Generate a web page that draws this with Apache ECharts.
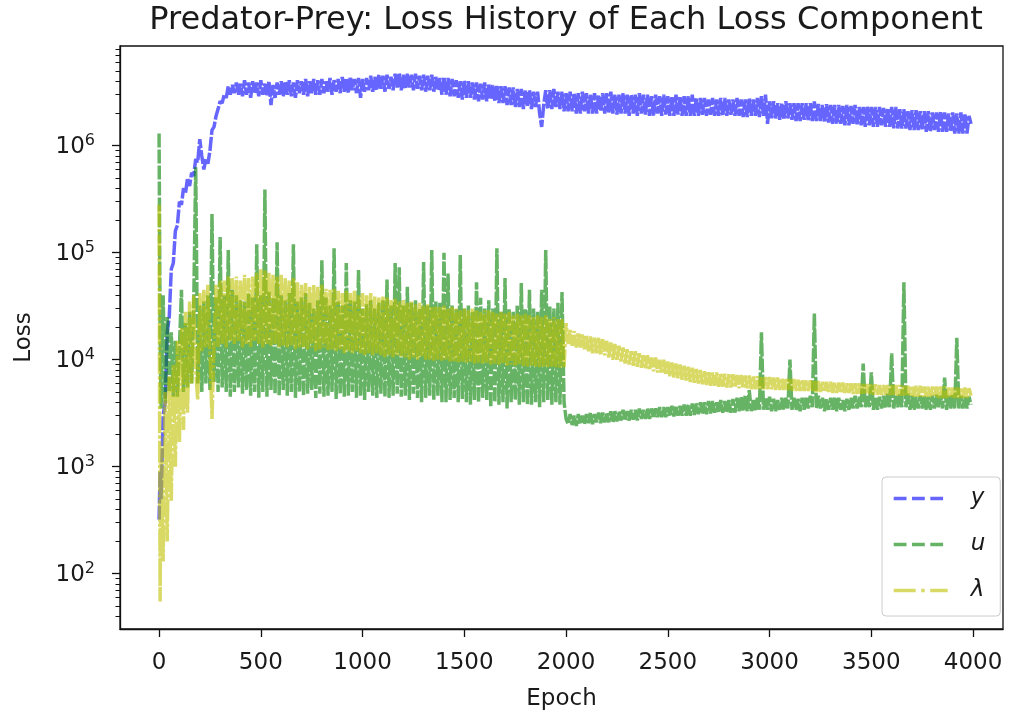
<!DOCTYPE html>
<html><head><meta charset="utf-8">
<script src="https://cdn.jsdelivr.net/npm/echarts@6/dist/echarts.min.js"></script>
<style>html,body{margin:0;padding:0;background:#fff}#c{width:1013px;height:719px}</style>
</head><body><div id="c"></div>
<script>
const titleText = 'Predator-Prey: Loss History of Each Loss Component';
const xName = 'Epoch';
const yName = 'Loss';
const seriesNames = ['y', 'u', 'λ'];
const xTicks = [0, 500, 1000, 1500, 2000, 2500, 3000, 3500, 4000];
const yTicks = [1e2, 1e3, 1e4, 1e5, 1e6];

// epochs: 0, 5, then every 10 epochs from 10 to 3990
const epochs = [0, 5];
for (let e = 10; e <= 3990; e += 10) epochs.push(e);

// y loss (after the 2 early values, rows of 20 = 200 epochs each)
const lossY = [
  3.2e2, 9.0e2,
  5.0e2, 3.0e3, 4.0e3, 1.8e4, 2.5e4, 7.0e4, 8.0e4, 1.6e5, 1.8e5, 3.0e5, 2.8e5, 4.0e5, 3.6e5, 5.0e5, 4.2e5, 5.6e5, 5.2e5, 7.5e5, 7.0e5, 1.15e6,
  8.0e5, 6.0e5, 7.5e5, 6.8e5, 9.0e5, 1.4e6, 1.5e6, 1.9e6, 2.2e6, 2.6e6, 2.5e6, 3.0e6, 2.8e6, 3.6e6, 3.0e6, 3.7e6, 3.1e6, 3.9e6, 3.0e6, 3.8e6,
  2.9e6, 4.1e6, 3.0e6, 3.9e6, 2.8e6, 4.0e6, 3.1e6, 3.9e6, 2.9e6, 4.1e6, 3.0e6, 3.8e6, 2.9e6, 4.0e6, 2.4e6, 3.7e6, 2.8e6, 3.9e6, 3.0e6, 4.0e6,
  2.9e6, 4.0e6, 3.0e6, 4.1e6, 2.9e6, 3.9e6, 2.8e6, 4.1e6, 3.1e6, 4.0e6, 3.0e6, 4.2e6, 2.9e6, 4.0e6, 3.1e6, 4.2e6, 3.0e6, 4.1e6, 3.0e6, 4.2e6,
  3.1e6, 4.0e6, 3.2e6, 4.3e6, 3.0e6, 4.1e6, 3.2e6, 4.2e6, 3.1e6, 4.4e6, 3.2e6, 4.3e6, 3.1e6, 4.4e6, 3.3e6, 4.2e6, 3.1e6, 4.3e6, 2.8e6, 4.2e6,
  3.2e6, 4.3e6, 3.3e6, 4.5e6, 3.2e6, 4.4e6, 3.3e6, 4.6e6, 3.4e6, 4.5e6, 3.2e6, 4.6e6, 3.4e6, 4.4e6, 3.3e6, 4.7e6, 3.5e6, 4.8e6, 3.3e6, 4.6e6,
  3.4e6, 4.7e6, 3.5e6, 4.6e6, 3.3e6, 4.7e6, 3.4e6, 4.5e6, 3.3e6, 4.6e6, 3.2e6, 4.5e6, 3.3e6, 4.6e6, 3.2e6, 4.4e6, 3.3e6, 4.3e6, 3.0e6, 4.4e6,
  3.0e6, 4.3e6, 2.9e6, 4.2e6, 2.9e6, 4.1e6, 2.8e6, 4.0e6, 2.7e6, 4.1e6, 2.8e6, 4.0e6, 2.8e6, 3.9e6, 2.7e6, 3.9e6, 2.6e6, 3.8e6, 2.7e6, 3.9e6,
  2.6e6, 3.8e6, 2.7e6, 3.7e6, 2.6e6, 3.7e6, 2.5e6, 3.6e6, 2.5e6, 3.6e6, 2.4e6, 3.5e6, 2.4e6, 3.5e6, 2.3e6, 3.4e6, 2.3e6, 3.4e6, 2.2e6, 3.3e6,
  2.3e6, 3.3e6, 2.2e6, 3.2e6, 2.3e6, 3.2e6, 2.0e6, 1.5e6, 2.4e6, 3.3e6, 2.2e6, 3.3e6, 2.2e6, 3.4e6, 2.3e6, 3.2e6, 2.2e6, 3.2e6, 2.1e6, 3.1e6,
  2.1e6, 3.2e6, 2.1e6, 3.1e6, 2.0e6, 3.1e6, 2.0e6, 3.2e6, 2.1e6, 3.1e6, 2.0e6, 3.0e6, 2.0e6, 3.1e6, 2.0e6, 3.0e6, 2.1e6, 3.1e6, 2.0e6, 3.1e6,
  2.0e6, 3.2e6, 2.0e6, 3.0e6, 1.95e6, 3.0e6, 2.0e6, 3.1e6, 2.0e6, 3.0e6, 1.9e6, 3.0e6, 2.0e6, 3.0e6, 1.9e6, 3.1e6, 2.0e6, 3.0e6, 1.95e6, 3.0e6,
  1.9e6, 2.9e6, 1.9e6, 3.0e6, 2.0e6, 2.9e6, 1.9e6, 3.0e6, 1.95e6, 2.9e6, 1.9e6, 2.9e6, 1.9e6, 3.0e6, 1.95e6, 2.9e6, 1.9e6, 2.9e6, 1.9e6, 2.9e6,
  1.9e6, 3.0e6, 1.9e6, 2.8e6, 1.9e6, 2.8e6, 1.95e6, 2.8e6, 1.9e6, 2.7e6, 1.95e6, 2.8e6, 1.9e6, 2.7e6, 1.9e6, 2.8e6, 1.9e6, 2.8e6, 1.9e6, 2.7e6,
  1.95e6, 2.7e6, 1.9e6, 2.8e6, 1.9e6, 2.7e6, 1.85e6, 2.7e6, 1.85e6, 2.8e6, 1.9e6, 2.7e6, 1.9e6, 2.8e6, 1.85e6, 2.9e6, 1.9e6, 3.0e6, 1.6e6, 2.6e6,
  1.8e6, 2.6e6, 1.8e6, 2.5e6, 1.75e6, 2.5e6, 1.75e6, 2.6e6, 1.8e6, 2.5e6, 1.75e6, 2.5e6, 1.7e6, 2.5e6, 1.7e6, 2.5e6, 1.75e6, 2.5e6, 1.7e6, 2.5e6,
  1.7e6, 2.6e6, 1.7e6, 2.45e6, 1.7e6, 2.4e6, 1.65e6, 2.45e6, 1.65e6, 2.4e6, 1.6e6, 2.4e6, 1.6e6, 2.4e6, 1.6e6, 2.35e6, 1.55e6, 2.4e6, 1.55e6, 2.35e6,
  1.6e6, 2.4e6, 1.55e6, 2.3e6, 1.55e6, 2.3e6, 1.5e6, 2.35e6, 1.55e6, 2.3e6, 1.5e6, 2.3e6, 1.5e6, 2.3e6, 1.55e6, 2.25e6, 1.5e6, 2.25e6, 1.5e6, 2.3e6,
  1.45e6, 2.3e6, 1.45e6, 2.2e6, 1.45e6, 2.2e6, 1.45e6, 2.1e6, 1.4e6, 2.15e6, 1.4e6, 2.15e6, 1.4e6, 2.1e6, 1.4e6, 2.1e6, 1.35e6, 2.1e6, 1.35e6, 2.05e6,
  1.4e6, 2.05e6, 1.35e6, 2.1e6, 1.35e6, 2.05e6, 1.35e6, 2.0e6, 1.35e6, 2.05e6, 1.3e6, 2.0e6, 1.3e6, 2.05e6, 1.3e6, 2.0e6, 1.3e6, 1.9e6, 1.6e6
];

// u loss
const lossU = [
  1.3e6, 2.0e4,
  3.5e3, 4.0e4, 4.0e3, 2.5e4, 5.0e3, 1.8e4, 4.5e3, 1.5e4, 4.5e3, 1.3e4, 4.5e4, 5.0e3, 2.2e4, 5.5e3, 2.8e4, 6.0e3, 3.0e4, 6.3e5, 6.0e3, 3.2e4,
  5.0e3, 3.5e4, 6.0e3, 4.0e4, 5.2e3, 2.3e5, 6.2e3, 3.8e4, 5.0e3, 1.4e5, 5.5e3, 4.0e4, 5.0e3, 1.06e5, 4.5e3, 4.5e4, 5.0e3, 4.0e4, 5.5e3, 3.6e4,
  4.8e3, 3.5e4, 5.2e3, 4.2e4, 4.6e3, 3.8e4, 5.0e3, 1.2e5, 4.4e3, 4.0e4, 5.0e3, 3.9e5, 4.5e3, 4.4e4, 5.2e3, 3.8e4, 4.8e3, 1.25e5, 4.6e3, 4.0e4,
  5.2e3, 3.6e4, 4.6e3, 4.2e4, 5.0e3, 1.2e5, 4.4e3, 3.5e4, 5.0e3, 3.8e4, 4.6e3, 4.2e4, 4.8e3, 3.4e4, 5.2e3, 3.0e4, 4.4e3, 3.6e4, 4.8e3, 8.5e4,
  4.5e3, 3.8e4, 4.6e3, 3.2e4, 5.0e3, 1.1e5, 4.3e3, 3.5e4, 4.8e3, 3.2e4, 4.5e3, 8.0e4, 4.6e3, 3.6e4, 5.0e3, 3.5e4, 4.4e3, 6.9e4, 4.6e3, 3.0e4,
  4.2e3, 3.3e4, 5.0e3, 3.6e4, 4.6e3, 3.0e4, 4.4e3, 3.4e4, 4.8e3, 3.6e4, 4.5e3, 5.6e4, 4.4e3, 3.2e4, 4.6e3, 8.0e4, 4.8e3, 7.3e4, 4.5e3, 3.2e4,
  4.6e3, 4.8e4, 4.2e3, 3.4e4, 4.8e3, 3.6e4, 4.4e3, 3.0e4, 4.0e3, 8.2e4, 4.4e3, 3.2e4, 4.6e3, 1.06e5, 4.2e3, 3.5e4, 4.6e3, 3.4e4, 4.0e3, 1.0e5,
  4.0e3, 6.4e4, 4.2e3, 3.2e4, 4.4e3, 3.0e4, 4.0e3, 9.5e4, 4.3e3, 3.0e4, 4.0e3, 3.2e4, 3.8e3, 2.8e4, 4.2e3, 5.3e4, 4.0e3, 3.8e4, 4.4e3, 3.0e4,
  4.2e3, 3.6e4, 3.6e3, 3.0e4, 4.0e3, 1.1e5, 3.8e3, 2.8e4, 4.0e3, 5.8e4, 3.5e3, 3.0e4, 4.0e3, 2.8e4, 4.2e3, 3.2e4, 3.8e3, 5.2e4, 4.0e3, 3.0e4,
  3.8e3, 4.5e4, 3.8e3, 3.0e4, 4.0e3, 2.8e4, 3.6e3, 4.5e4, 4.0e3, 1.06e5, 4.2e3, 3.2e4, 3.8e3, 3.0e4, 4.0e3, 3.4e4, 3.8e3, 4.3e4, 4.0e3, 2.8e3,
  2.5e3, 3.1e3, 2.45e3, 3.0e3, 2.4e3, 3.1e3, 2.5e3, 3.0e3, 2.5e3, 3.1e3, 2.55e3, 3.2e3, 2.5e3, 3.1e3, 2.6e3, 3.2e3, 2.55e3, 3.2e3, 2.6e3, 3.2e3,
  2.6e3, 3.3e3, 2.6e3, 3.3e3, 2.65e3, 3.3e3, 2.7e3, 3.4e3, 2.7e3, 3.3e3, 2.7e3, 3.4e3, 2.75e3, 3.4e3, 2.7e3, 3.5e3, 2.8e3, 3.4e3, 2.8e3, 3.5e3,
  2.8e3, 3.5e3, 2.85e3, 3.5e3, 2.9e3, 3.6e3, 2.9e3, 3.6e3, 2.9e3, 3.6e3, 2.95e3, 3.7e3, 2.95e3, 3.7e3, 3.0e3, 3.7e3, 3.0e3, 3.8e3, 3.0e3, 3.8e3,
  3.0e3, 3.9e3, 3.05e3, 3.9e3, 3.1e3, 4.0e3, 3.1e3, 4.0e3, 3.1e3, 4.1e3, 3.15e3, 4.1e3, 3.2e3, 4.0e3, 3.2e3, 4.2e3, 3.2e3, 4.1e3, 3.2e3, 4.2e3,
  3.2e3, 4.3e3, 3.2e3, 4.4e3, 3.3e3, 4.5e3, 3.3e3, 4.6e3, 3.3e3, 5.2e3, 3.3e3, 4.2e3, 3.3e3, 4.4e3, 3.4e3, 1.8e4, 3.4e3, 4.4e3, 3.4e3, 4.5e3,
  3.3e3, 4.3e3, 3.3e3, 4.2e3, 3.4e3, 4.4e3, 3.4e3, 4.4e3, 3.5e3, 1.0e4, 3.4e3, 4.4e3, 3.4e3, 4.3e3, 3.3e3, 4.4e3, 3.4e3, 4.5e3, 3.5e3, 4.6e3,
  3.6e3, 2.7e4, 3.5e3, 4.6e3, 3.5e3, 4.4e3, 3.3e3, 4.3e3, 3.4e3, 4.4e3, 3.4e3, 4.5e3, 3.3e3, 4.4e3, 3.4e3, 4.2e3, 3.3e3, 4.3e3, 3.4e3, 4.4e3,
  3.5e3, 4.6e3, 3.5e3, 4.5e3, 3.6e3, 9.2e3, 3.6e3, 4.6e3, 3.6e3, 7.6e3, 3.4e3, 4.5e3, 3.4e3, 4.5e3, 3.5e3, 4.6e3, 3.5e3, 4.8e3, 3.6e3, 1.15e4,
  3.5e3, 4.6e3, 3.6e3, 4.8e3, 3.6e3, 5.3e4, 3.6e3, 4.8e3, 3.4e3, 4.6e3, 3.4e3, 4.5e3, 3.5e3, 4.6e3, 3.5e3, 4.6e3, 3.4e3, 4.5e3, 3.4e3, 4.6e3,
  3.5e3, 4.7e3, 3.6e3, 4.6e3, 3.5e3, 6.8e3, 3.4e3, 4.6e3, 3.5e3, 4.8e3, 3.5e3, 1.6e4, 3.5e3, 4.6e3, 3.5e3, 4.5e3, 3.5e3, 4.5e3, 3.8e3
];

// lambda loss
const lossLambda = [
  2.8e5, 55,
  1.5e3, 1.3e2, 5.0e3, 2.0e2, 7.0e3, 4.8e2, 9.0e3, 1.0e3, 1.5e4, 1.7e3, 2.0e4, 2.2e3, 2.8e4, 3.2e3, 3.5e4, 6.0e3, 4.0e4, 8.0e3, 4.2e3, 4.2e4,
  1.2e4, 4.5e4, 1.3e4, 5.0e4, 1.2e4, 2.8e3, 1.4e4, 5.0e4, 1.3e4, 5.5e4, 1.4e4, 5.5e4, 1.3e4, 6.0e4, 1.5e4, 5.8e4, 1.4e4, 6.0e4, 1.5e4, 5.5e4,
  1.3e4, 6.2e4, 1.4e4, 5.8e4, 1.3e4, 6.0e4, 1.5e4, 6.5e4, 1.4e4, 7.0e4, 1.3e4, 6.8e4, 1.4e4, 6.5e4, 1.35e4, 6.2e4, 1.4e4, 6.0e4, 1.3e4, 6.2e4,
  1.35e4, 5.8e4, 1.3e4, 5.5e4, 1.35e4, 5.8e4, 1.25e4, 5.4e4, 1.3e4, 5.0e4, 1.3e4, 5.2e4, 1.25e4, 4.8e4, 1.3e4, 5.0e4, 1.2e4, 4.8e4, 1.25e4, 5.0e4,
  1.3e4, 4.6e4, 1.2e4, 4.5e4, 1.25e4, 4.6e4, 1.2e4, 4.4e4, 1.25e4, 4.2e4, 1.15e4, 4.4e4, 1.2e4, 4.2e4, 1.15e4, 4.4e4, 1.2e4, 4.0e4, 1.15e4, 4.2e4,
  1.1e4, 4.0e4, 1.15e4, 4.2e4, 1.1e4, 3.9e4, 1.15e4, 3.8e4, 1.1e4, 3.9e4, 1.05e4, 3.8e4, 1.1e4, 3.6e4, 1.05e4, 3.7e4, 1.1e4, 3.5e4, 1.05e4, 3.6e4,
  1.05e4, 3.4e4, 1.0e4, 3.5e4, 1.05e4, 3.3e4, 1.0e4, 3.4e4, 1.05e4, 3.2e4, 1.0e4, 3.3e4, 1.0e4, 3.1e4, 9.8e3, 3.2e4, 1.0e4, 3.1e4, 9.8e3, 3.2e4,
  1.0e4, 3.0e4, 9.6e3, 3.1e4, 9.7e3, 3.0e4, 9.5e3, 2.9e4, 9.6e3, 3.0e4, 9.4e3, 2.9e4, 9.6e3, 3.0e4, 9.2e3, 2.9e4, 9.4e3, 2.8e4, 9.2e3, 2.9e4,
  9.4e3, 2.9e4, 9.0e3, 2.8e4, 9.2e3, 2.7e4, 9.0e3, 2.8e4, 9.2e3, 2.7e4, 8.8e3, 2.8e4, 9.0e3, 2.6e4, 8.8e3, 2.7e4, 9.0e3, 2.6e4, 8.7e3, 2.7e4,
  8.6e3, 2.6e4, 8.8e3, 2.5e4, 8.6e3, 2.6e4, 8.5e3, 2.5e4, 8.6e3, 2.6e4, 8.5e3, 2.4e4, 8.6e3, 2.5e4, 8.5e3, 2.4e4, 8.4e3, 2.4e4, 8.5e3, 2.2e4,
  1.4e4, 1.9e4, 1.35e4, 1.85e4, 1.3e4, 1.8e4, 1.3e4, 1.75e4, 1.25e4, 1.7e4, 1.2e4, 1.65e4, 1.15e4, 1.6e4, 1.15e4, 1.6e4, 1.1e4, 1.55e4, 1.1e4, 1.5e4,
  1.05e4, 1.45e4, 1.0e4, 1.4e4, 1.0e4, 1.35e4, 9.6e3, 1.3e4, 9.2e3, 1.25e4, 9.0e3, 1.2e4, 8.8e3, 1.2e4, 8.6e3, 1.15e4, 8.4e3, 1.1e4, 8.2e3, 1.1e4,
  8.0e3, 1.05e4, 7.8e3, 1.05e4, 7.6e3, 1.0e4, 7.4e3, 1.0e4, 7.2e3, 9.6e3, 7.0e3, 9.4e3, 6.8e3, 9.2e3, 6.7e3, 9.0e3, 6.5e3, 8.8e3, 6.4e3, 8.6e3,
  6.2e3, 8.4e3, 6.1e3, 8.2e3, 6.0e3, 8.0e3, 5.9e3, 7.8e3, 5.8e3, 7.8e3, 5.7e3, 7.6e3, 5.7e3, 7.6e3, 5.6e3, 7.5e3, 5.6e3, 7.4e3, 5.5e3, 7.3e3,
  5.5e3, 7.3e3, 5.5e3, 7.2e3, 5.4e3, 7.2e3, 5.4e3, 7.1e3, 5.4e3, 7.1e3, 5.3e3, 7.0e3, 5.3e3, 7.0e3, 5.3e3, 7.0e3, 5.3e3, 6.9e3, 5.3e3, 6.9e3,
  5.3e3, 6.8e3, 5.2e3, 6.8e3, 5.2e3, 6.7e3, 5.2e3, 6.7e3, 5.2e3, 6.6e3, 5.1e3, 6.6e3, 5.1e3, 6.5e3, 5.1e3, 6.5e3, 5.1e3, 6.4e3, 5.1e3, 6.4e3,
  5.1e3, 6.3e3, 5.0e3, 6.3e3, 5.0e3, 6.2e3, 5.0e3, 6.2e3, 5.0e3, 6.2e3, 4.9e3, 6.1e3, 4.9e3, 6.1e3, 4.9e3, 6.1e3, 4.9e3, 6.0e3, 4.9e3, 6.0e3,
  4.8e3, 6.0e3, 4.8e3, 6.0e3, 4.8e3, 5.9e3, 4.8e3, 5.9e3, 4.8e3, 5.9e3, 4.7e3, 5.9e3, 4.7e3, 5.8e3, 4.7e3, 5.8e3, 4.7e3, 5.8e3, 4.7e3, 5.8e3,
  4.6e3, 5.8e3, 4.6e3, 5.8e3, 4.6e3, 5.7e3, 4.6e3, 5.7e3, 4.6e3, 5.7e3, 4.5e3, 5.7e3, 4.5e3, 5.7e3, 4.5e3, 5.6e3, 4.5e3, 5.6e3, 4.5e3, 5.6e3,
  4.5e3, 5.6e3, 4.4e3, 5.6e3, 4.4e3, 5.6e3, 4.4e3, 5.5e3, 4.4e3, 5.5e3, 4.4e3, 5.5e3, 4.4e3, 5.5e3, 4.4e3, 5.5e3, 4.4e3, 5.4e3, 4.6e3
];

// minor log ticks 2..9 x 10^k
const minorTicks = [];
for (let k = 1; k <= 6; k++) for (let m = 2; m <= 9; m++) minorTicks.push(m * Math.pow(10, k));

const FONT = 'DejaVu Sans';
function pow10Label(v) {
  return '{b|10}{s|' + Math.round(Math.log10(v)) + '}';
}
function pairs(vals) { return epochs.map((e, i) => [e, vals[i]]); }

const vals = [lossY, lossU, lossLambda];

const chart = echarts.init(document.getElementById('c'), null, {renderer: 'canvas'});
const yMin = 30.4, yMax = 8.55e6;
const colors = ['#0000ff', '#008000', '#bfbf00'];
const legendDashes = [[12.8, 5.5], [12.8, 5.5], [22, 5.5, 3.5, 5.5]];
const lineDashes = [[14, 2], [14, 2], [22, 2, 3.5, 2]];
const TXT = '#1a1a1a';

chart.setOption({
  animation: false,
  backgroundColor: '#ffffff',
  title: {
    text: titleText, left: 566, top: 5, padding: 0, textAlign: 'center',
    textStyle: {fontFamily: FONT, fontSize: 32, fontWeight: 'normal', color: TXT}
  },
  grid: {left: 120, top: 46, right: 10, bottom: 90, show: true, borderColor: '#111', borderWidth: 1.3, backgroundColor: 'transparent'},
  legend: {
    orient: 'vertical', left: 882, top: 477,
    padding: [10, 15, 14, 10],
    itemWidth: 54, itemHeight: 20, itemGap: 23,
    backgroundColor: 'rgba(255,255,255,0.8)', borderColor: '#cccccc', borderWidth: 1, borderRadius: 4,
    itemStyle: {opacity: 0},
    textStyle: {fontFamily: FONT, fontSize: 23, fontStyle: 'italic', color: TXT, padding: [0, 0, 0, 18], lineHeight: 20},
    data: seriesNames.map((n, i) => ({name: n, lineStyle: {type: legendDashes[i], width: 3.4, opacity: 0.6, color: colors[i]}}))
  },
  xAxis: {
    type: 'value', min: -192, max: 4147,
    name: xName, nameLocation: 'middle', nameGap: 59,
    nameTextStyle: {fontFamily: FONT, fontSize: 23, color: TXT},
    axisLine: {show: true, onZero: false, lineStyle: {color: '#111', width: 1.3}},
    axisTick: {show: true, length: 8, lineStyle: {color: '#111', width: 1.3}, customValues: xTicks},
    axisLabel: {fontFamily: FONT, fontSize: 23, color: TXT, margin: 23, customValues: xTicks, formatter: v => String(v)},
    splitLine: {show: false}
  },
  yAxis: [{
    type: 'log', logBase: 10, min: yMin, max: yMax,
    name: yName, nameLocation: 'middle', nameGap: 84,
    nameTextStyle: {fontFamily: FONT, fontSize: 23, color: TXT},
    axisLine: {show: true, onZero: false, lineStyle: {color: '#111', width: 1.3}},
    axisTick: {show: true, length: 8, lineStyle: {color: '#111', width: 1.3}, customValues: yTicks},
    axisLabel: {
      fontFamily: FONT, fontSize: 23, color: TXT, margin: 25, customValues: yTicks, formatter: pow10Label,
      rich: {
        b: {fontFamily: FONT, fontSize: 23, color: TXT, lineHeight: 26, verticalAlign: 'bottom'},
        s: {fontFamily: FONT, fontSize: 16, color: TXT, lineHeight: 16, verticalAlign: 'top'}
      }
    },
    splitLine: {show: false}, minorTick: {show: false}
  }, {
    type: 'log', logBase: 10, min: yMin, max: yMax, position: 'left',
    axisLine: {show: false, onZero: false},
    axisTick: {show: true, length: 4.5, lineStyle: {color: '#111', width: 1}, customValues: minorTicks},
    axisLabel: {show: false},
    splitLine: {show: false}
  }],
  series: seriesNames.map((n, i) => ({
    name: n, type: 'line', yAxisIndex: 0, data: pairs(vals[i]), symbol: 'none', showSymbol: false,
    lineStyle: {color: colors[i], width: 3.5, type: lineDashes[i], opacity: 0.6, cap: 'butt'},
    itemStyle: {color: colors[i], opacity: 0.6},
    z: 2 + i
  }))
});
</script></body></html>
